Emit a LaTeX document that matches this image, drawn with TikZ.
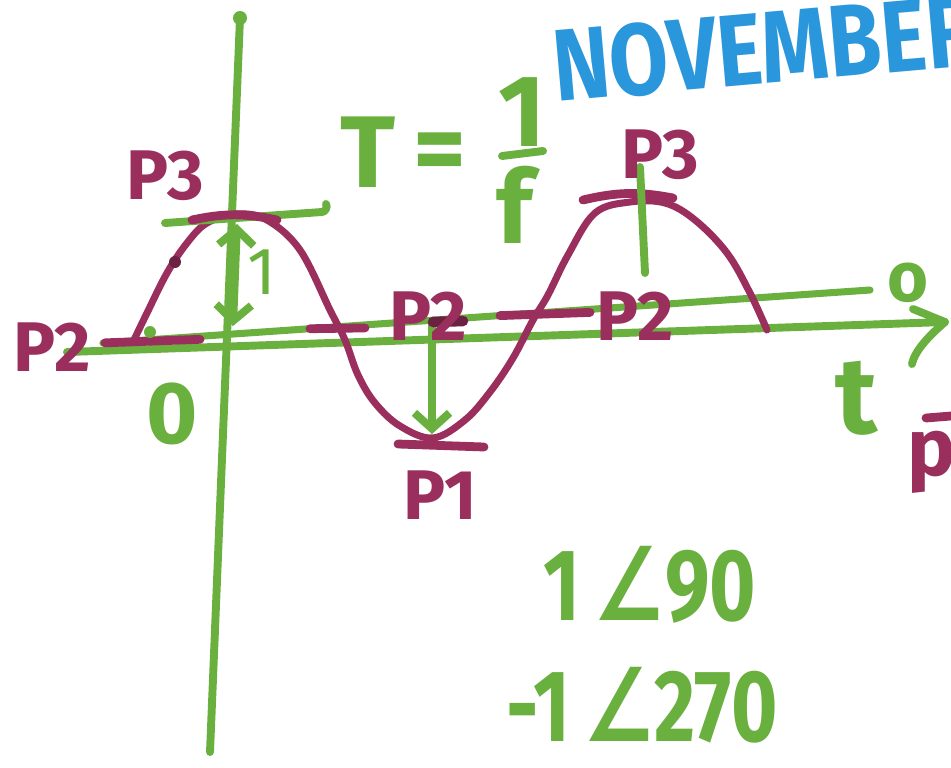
\documentclass[tikz,border=0pt]{standalone}
\usepackage{fontspec}
\setmainfont{Fira Sans}
\newfontfamily\anglefont{DejaVu Sans}
\usetikzlibrary{arrows.meta}
\definecolor{marker}{HTML}{6AB03E}
\definecolor{plum}{HTML}{9A2F5E}
\definecolor{sky}{HTML}{2A96DB}
\begin{document}
\begin{tikzpicture}[x=0.02cm,y=-0.02cm,
  axis/.style={marker,line width=4.5pt,line cap=round,line join=round},
  wave/.style={plum,line width=4pt,line cap=round},
  tick/.style={plum,line width=5pt,line cap=round},
  barb/.style={-{Straight Barb[length=9pt,width=20pt]}},
  ink/.style={marker,inner sep=0pt,font=\bfseries\fontsize{50}{50}\selectfont},
  lab/.style={plum,inner sep=0pt,font=\bfseries\fontsize{40}{40}\selectfont}]

% Frame
\clip (0,0) rectangle (951,768);
\fill[white] (0,0) rectangle (951,768);

% Draw axes
\coordinate (ytop) at (240,18);
\coordinate (ybot) at (210,752);
\coordinate (xleft) at (67,352);
\coordinate (xtip) at (945,322);
\coordinate (uleft) at (103,343);
\coordinate (uright) at (870,290);
\coordinate (barbup) at (913,309);
\coordinate (barbdn) at (912,364);
\draw[axis] (ytop) -- (ybot);
\fill[marker] (ytop) circle (7);
\draw[axis] (xleft) -- (xtip);
\draw[axis] (barbup) -- (xtip) .. controls (930,335) and (915,350) .. (barbdn);
\draw[axis,line width=4pt] (uleft) -- (uright);

% Draw the wave
\draw[wave] plot[smooth,tension=0.6] coordinates {
  (133,342) (147,313) (167,273) (187,243) (207,223) (237,214) (267,220)
  (300,250) (330,310) (345,340) (358,375) (375,403) (400,426) (433,438)
  (465,420) (490,392) (513,358) (533,320) (548,295) (568,255) (595,213)
  (630,202) (665,203) (695,220) (727,253) (750,293) (767,330)};

% Marks on the wave
\draw[axis] (165,223) -- (322,212) to[bend right=60] (326,204);
\draw[tick] (192,220) to[bend left=12] (277,220);
\draw[tick] (583,200) to[bend left=12] (673,198);
\draw[tick] (398,444) -- (484,447);
\foreach \a/\b in {105/200,310/365,500/590} {
  \draw[tick] (\a,{343-0.069*(\a-103)}) -- (\b,{343-0.069*(\b-103)+3});
}
\fill[plum!70!black] (175,262) circle (6);
\fill[marker] (150,332) circle (6);
\draw[axis] (640,167) -- (645,273);

% Arrows down to the axis
\coordinate (peakL) at (237,224);
\coordinate (baseL) at (233,326);
\coordinate (midtop) at (432,324);
\coordinate (trough) at (432,434);
\draw[axis,{Straight Barb[length=9pt,width=20pt]}-{Straight Barb[length=9pt,width=20pt]}] (baseL) -- (peakL);
\draw[axis,barb] (midtop) -- (trough);
\draw[plum!70!black,line width=6pt,line cap=round] (433,322) -- (463,321);
\node[marker,inner sep=0pt,font=\fontsize{38}{38}\selectfont] (amp) at (262,272) {1};

% Label points
\node[lab] (p3a) at (165,176) {P3};
\node[lab] (p2a) at (52,347) {P2};
\node[lab] (p2b) at (428,316) {P2};
\node[lab] (p2c) at (635,316) {P2};
\node[lab] (p1) at (440,495) {P1};
\node[lab] (p3b) at (660,155) {P3};
\node[lab,font=\bfseries\fontsize{46}{46}\selectfont] (pbar) at (932,462) {p};
\draw[tick] (926,418) -- (951,416);

% Period and axis names
\node[ink,font=\bfseries\fontsize{58}{58}\selectfont] (tee) at (368,152) {T};
\node[ink,font=\bfseries\fontsize{58}{58}\selectfont] (eq) at (440,158) {=};
\node[ink,font=\bfseries\fontsize{58}{58}\selectfont] (one) at (522,112) {1};
\draw[axis] (502,156) -- (543,151);
\node[ink,font=\bfseries\fontsize{58}{58}\selectfont] (eff) at (515,205) {f};
\node[ink] (zero) at (172,414) {0};
\node[ink,font=\bfseries\fontsize{40}{40}\selectfont] (orig) at (908,283) {o};
\node[ink,font=\bfseries\fontsize{62}{62}\selectfont] (time) at (857,398) {t};

% Month
\node[sky,inner sep=0pt,anchor=base west,rotate=5,xscale=0.84,
  font=\bfseries\fontsize{58}{58}\selectfont] (month) at (556,102) {NOVEMBER};

% Phasors
\node[ink,xscale=0.78,font=\bfseries\fontsize{58}{58}\selectfont] (ph1) at (650,585) {1\,{\anglefont∠}90};
\node[ink,xscale=0.78,font=\bfseries\fontsize{58}{58}\selectfont] (ph2) at (642,705) {-1\,{\anglefont∠}270};

\end{tikzpicture}
\end{document}
